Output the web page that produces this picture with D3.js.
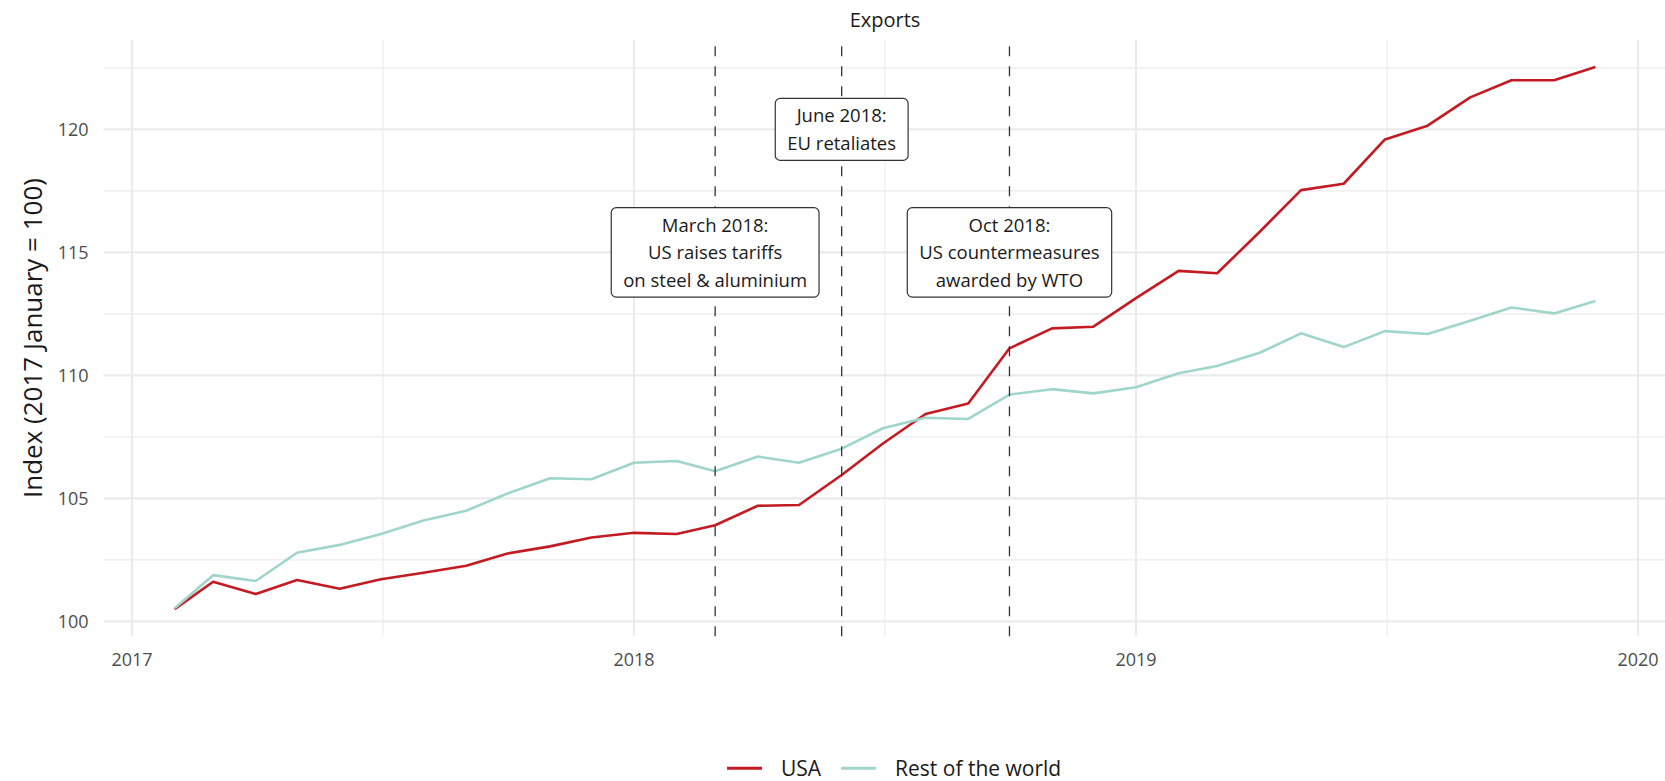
<!DOCTYPE html>
<html>
<head>
<meta charset="utf-8">
<title>Exports index</title>
<style>
  body { margin: 0; background: white; }
  svg { font-family: "Open Sans", sans-serif; }
  .grid line { stroke: #ebebeb; }
  .tick-label { fill: #4d4d4d; font-size: 18px; }
</style>
<script src="https://cdn.jsdelivr.net/npm/d3@7/dist/d3.min.js"></script>
</head>
<body>
<div id="chart"></div>
<script>
// --- data ---
var months = [
  "2017-02","2017-03","2017-04","2017-05","2017-06","2017-07","2017-08","2017-09","2017-10","2017-11","2017-12",
  "2018-01","2018-02","2018-03","2018-04","2018-05","2018-06","2018-07","2018-08","2018-09","2018-10","2018-11","2018-12",
  "2019-01","2019-02","2019-03","2019-04","2019-05","2019-06","2019-07","2019-08","2019-09","2019-10","2019-11","2019-12"
];
var usa = [
  100.50, 101.61, 101.11, 101.68, 101.33, 101.71, 101.98, 102.26, 102.76, 103.05, 103.41,
  103.60, 103.55, 103.91, 104.70, 104.73, 105.95, 107.23, 108.43, 108.86, 111.10, 111.91, 111.98,
  113.14, 114.25, 114.15, 115.84, 117.53, 117.79, 119.59, 120.15, 121.30, 122.00, 122.00, 122.54
];
var restOfWorld = [
  100.53, 101.88, 101.64, 102.79, 103.11, 103.55, 104.10, 104.50, 105.20, 105.82, 105.78,
  106.45, 106.52, 106.10, 106.70, 106.45, 107.02, 107.85, 108.28, 108.23, 109.22, 109.44, 109.27,
  109.52, 110.09, 110.38, 110.92, 111.71, 111.15, 111.80, 111.68, 112.22, 112.76, 112.52, 113.02
];
var seriesNames = ["USA", "Rest of the world"];
var seriesColors = ["#c41a22", "#a0d5cb"];
var yearTicks = ["2017-01-01", "2018-01-01", "2019-01-01", "2020-01-01"];
var yTicks = [100, 105, 110, 115, 120];
var eventDates = ["2018-03-01", "2018-06-01", "2018-10-01"];
var eventLabelY = [115, 120, 115];
var eventLabels = [
  ["March 2018:", "US raises tariffs", "on steel & aluminium"],
  ["June 2018:", "EU retaliates"],
  ["Oct 2018:", "US countermeasures", "awarded by WTO"]
];

var W = 1665, H = 781;
var margin = { left: 103.6, right: 1666.4, top: 39.8, bottom: 636.2 };

var parseM = d3.timeParse("%Y-%m");
var parseD = d3.timeParse("%Y-%m-%d");
var dates = months.map(parseM);

// ggplot-like 5% expansion
function expand(ext) {
  var d = (ext[1] - ext[0]) * 0.05;
  return [ext[0] - d, ext[1] + d];
}
var xExt = d3.extent(dates).map(function(d) { return +d; });
var x = d3.scaleTime()
    .domain(expand(xExt).map(function(t) { return new Date(t); }))
    .range([margin.left, margin.right]);
var y = d3.scaleLinear()
    .domain(expand(d3.extent(usa.concat(restOfWorld))))
    .range([margin.bottom, margin.top]);

var svg = d3.select("#chart").append("svg")
    .attr("width", W)
    .attr("height", H);

// grid
var grid = svg.append("g").attr("class", "grid");
var yMinor = d3.range(97.5, 125, 5).filter(function(v) { return v > y.domain()[0] && v < y.domain()[1]; });
grid.selectAll("line.ymin").data(yMinor).enter().append("line")
    .attr("x1", margin.left).attr("x2", margin.right)
    .attr("y1", function(d) { return y(d); }).attr("y2", function(d) { return y(d); })
    .style("stroke-width", 1.1);
var xMajor = yearTicks.map(parseD);
var xMinor = [];
for (var i = 0; i < xMajor.length - 1; i++) {
  xMinor.push(new Date((+xMajor[i] + +xMajor[i + 1]) / 2));
}
grid.selectAll("line.xmin").data(xMinor).enter().append("line")
    .attr("y1", margin.top).attr("y2", margin.bottom)
    .attr("x1", function(d) { return x(d); }).attr("x2", function(d) { return x(d); })
    .style("stroke-width", 1.1);
grid.selectAll("line.ymaj").data(yTicks).enter().append("line")
    .attr("x1", margin.left).attr("x2", margin.right)
    .attr("y1", function(d) { return y(d); }).attr("y2", function(d) { return y(d); })
    .style("stroke-width", 2.2);
grid.selectAll("line.xmaj").data(xMajor).enter().append("line")
    .attr("y1", margin.top).attr("y2", margin.bottom)
    .attr("x1", function(d) { return x(d); }).attr("x2", function(d) { return x(d); })
    .style("stroke-width", 2.2);

// axes labels
svg.selectAll("text.ytick").data(yTicks).enter().append("text")
    .attr("class", "tick-label")
    .attr("x", 88.6)
    .attr("y", function(d) { return y(d); })
    .attr("dy", "0.36em")
    .attr("text-anchor", "end")
    .text(function(d) { return d; });
svg.selectAll("text.xtick").data(xMajor).enter().append("text")
    .attr("class", "tick-label")
    .attr("x", function(d) { return x(d); })
    .attr("y", 666)
    .attr("text-anchor", "middle")
    .text(d3.timeFormat("%Y"));

svg.append("text")
    .attr("transform", "translate(42," + ((margin.top + margin.bottom) / 2) + ") rotate(-90)")
    .attr("text-anchor", "middle")
    .style("font-size", "26px")
    .style("fill", "#1a1a1a")
    .text("Index (2017 January = 100)");

svg.append("text")
    .attr("x", (margin.left + margin.right) / 2)
    .attr("y", 27)
    .attr("text-anchor", "middle")
    .style("font-size", "20px")
    .style("fill", "#1a1a1a")
    .text("Exports");

// series
var line = d3.line()
    .x(function(d, i) { return x(dates[i]); })
    .y(function(d) { return y(d); });
[usa, restOfWorld].forEach(function(vals, k) {
  svg.append("path")
      .datum(vals)
      .attr("d", line)
      .attr("fill", "none")
      .attr("stroke", seriesColors[k])
      .attr("stroke-width", 2.6)
      .attr("stroke-linejoin", "round");
});

// event lines
svg.selectAll("line.event").data(eventDates).enter().append("line")
    .attr("x1", function(d) { return x(parseD(d)); })
    .attr("x2", function(d) { return x(parseD(d)); })
    .attr("y1", margin.bottom).attr("y2", margin.top)
    .attr("stroke", "#333")
    .attr("stroke-width", 1.3)
    .attr("stroke-dasharray", "10,10");

// event labels
var lineH = 27.5, padX = 12;
eventDates.forEach(function(d, k) {
  var cx = x(parseD(d)), cy = y(eventLabelY[k]);
  var lines = eventLabels[k];
  var g = svg.append("g");
  var box = g.append("rect");
  var txt = g.selectAll("text").data(lines).enter().append("text")
      .attr("x", cx)
      .attr("y", function(s, i) { return cy + (i - (lines.length - 1) / 2) * lineH; })
      .attr("dy", "0.36em")
      .attr("text-anchor", "middle")
      .style("font-size", "18.5px")
      .style("fill", "#1a1a1a")
      .text(function(s) { return s; });
  var wMax = d3.max(txt.nodes(), function(n) { return n.getComputedTextLength(); });
  var bh = lines.length * lineH + 7;
  box.attr("x", cx - wMax / 2 - padX)
      .attr("y", cy - bh / 2)
      .attr("width", wMax + 2 * padX)
      .attr("height", bh)
      .attr("rx", 5)
      .attr("fill", "white")
      .attr("stroke", "#333")
      .attr("stroke-width", 1.2);
});

// legend
var legend = svg.append("g");
var lx = 727, ly = 768.3;
seriesNames.forEach(function(name, k) {
  legend.append("line")
      .attr("x1", lx).attr("x2", lx + 35)
      .attr("y1", ly).attr("y2", ly)
      .attr("stroke", seriesColors[k])
      .attr("stroke-width", 3);
  var t = legend.append("text")
      .attr("x", lx + 54)
      .attr("y", ly)
      .attr("dy", "0.36em")
      .style("font-size", "21px")
      .style("fill", "#1a1a1a")
      .text(name);
  lx = lx + 54 + t.node().getComputedTextLength() + 20;
});
</script>
</body>
</html>
